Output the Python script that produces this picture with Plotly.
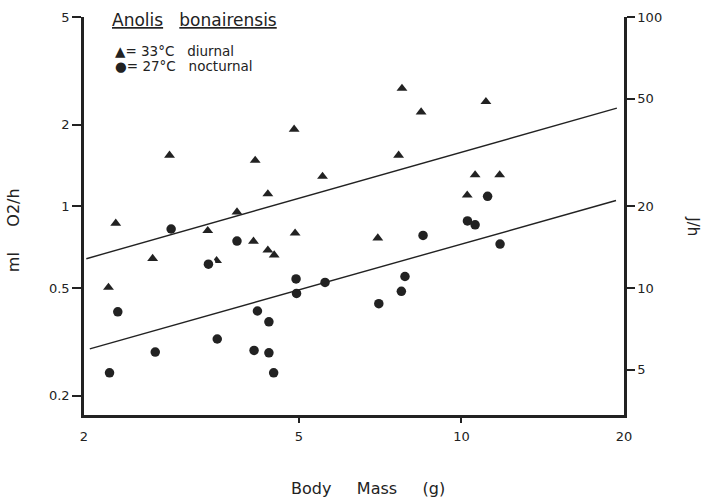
import numpy as np
import plotly.graph_objects as go

# ---- data ----
# 33 C diurnal (triangles): body mass (g), oxygen consumption (ml O2/h)
tri_mass = [2.22, 2.29, 2.68, 2.88, 3.39, 3.52, 3.84, 4.15, 4.12, 4.38, 4.38, 4.50,
            4.90, 4.92, 5.53, 7.00, 7.65, 7.76, 8.42, 10.25, 10.60, 11.10, 11.77]
tri_vo2 = [0.502, 0.866, 0.642, 1.544, 0.813, 0.630, 0.953, 1.477, 0.743, 1.112, 0.689, 0.661,
           1.925, 0.796, 1.290, 0.764, 1.544, 2.725, 2.230, 1.100, 1.306, 2.434, 1.306]

# 27 C nocturnal (circles)
circ_mass = [2.23, 2.31, 2.71, 2.90, 3.40, 3.53, 3.84, 4.13, 4.19, 4.40, 4.40, 4.49,
             4.94, 4.95, 5.59, 7.03, 7.74, 7.86, 8.49, 10.26, 10.60, 11.18, 11.79]
circ_vo2 = [0.243, 0.408, 0.290, 0.825, 0.612, 0.324, 0.745, 0.294, 0.411, 0.375, 0.288, 0.243,
            0.540, 0.477, 0.524, 0.4375, 0.486, 0.551, 0.781, 0.884, 0.855, 1.089, 0.726]

# regression lines (end points)
line33_mass = [2.02, 19.4]
line33_vo2 = [0.641, 2.306]
line27_mass = [2.05, 19.33]
line27_vo2 = [0.298, 1.051]

x_ticks = [2, 5, 10, 20]
x_ticklabels = ["2", "5", "10", "20"]
x_marked = [5, 10]
y_ticks = [0.2, 0.5, 1, 2, 5]
y_ticklabels = ["0.2", "0.5", "1", "2", "5"]
j_ticks = [5, 10, 20, 50, 100]
j_ticklabels = ["5", "10", "20", "50", "100"]
J_PER_ML = 20.0

INK = "#222222"
FONT = "DejaVu Sans"

x_range = [np.log10(2), np.log10(20)]
y_range = [-0.770, np.log10(5)]
j_range = [y_range[0] + np.log10(J_PER_ML), y_range[1] + np.log10(J_PER_ML)]

fig = go.Figure()

# regression lines
for mx, my in [(line33_mass, line33_vo2), (line27_mass, line27_vo2)]:
    fig.add_trace(go.Scatter(x=mx, y=my, mode="lines", xaxis="x2", yaxis="y",
                             line=dict(color=INK, width=1.4), showlegend=False,
                             hoverinfo="skip"))

# register the right-hand (J/h) axis
fig.add_trace(go.Scatter(x=[], y=[], xaxis="x", yaxis="y2", mode="markers",
                         showlegend=False, hoverinfo="skip"))

TRI = 9.5
CIR = 9.5
# triangles with white halo
fig.add_trace(go.Scatter(x=tri_mass, y=tri_vo2, mode="markers",
                         marker=dict(symbol="triangle-up", size=TRI + 5, color="white"),
                         showlegend=False, hoverinfo="skip"))
fig.add_trace(go.Scatter(x=tri_mass, y=tri_vo2, mode="markers", name="33°C diurnal",
                         marker=dict(symbol="triangle-up", size=TRI, color=INK),
                         showlegend=False))
# circles with white halo
fig.add_trace(go.Scatter(x=circ_mass, y=circ_vo2, mode="markers",
                         marker=dict(symbol="circle", size=CIR + 5, color="white"),
                         showlegend=False, hoverinfo="skip"))
fig.add_trace(go.Scatter(x=circ_mass, y=circ_vo2, mode="markers", name="27°C nocturnal",
                         marker=dict(symbol="circle", size=CIR, color=INK),
                         showlegend=False))

tickfont = dict(family=FONT, size=13, color=INK)

fig.update_layout(
    width=704, height=504,
    margin=dict(l=84, r=80, t=10, b=89),
    paper_bgcolor="white", plot_bgcolor="white",
    showlegend=False,
    xaxis=dict(type="log", range=x_range, tickvals=x_ticks, ticktext=x_ticklabels,
               ticks="outside", ticklen=8, tickcolor="rgba(0,0,0,0)",
               showline=True, linewidth=2.5, linecolor=INK,
               showgrid=False, zeroline=False, tickfont=tickfont),
    xaxis2=dict(type="log", range=x_range, overlaying="x", anchor="y", side="bottom",
                tickvals=x_marked, ticks="outside", ticklen=7, tickwidth=1.5,
                tickcolor=INK, showticklabels=False, showline=False,
                showgrid=False, zeroline=False),
    yaxis=dict(type="log", range=y_range, tickvals=y_ticks, ticktext=y_ticklabels,
               ticks="outside", ticklen=9, tickwidth=1.5, tickcolor=INK,
               showline=True, linewidth=2.5, linecolor=INK,
               showgrid=False, zeroline=False, tickfont=tickfont),
    yaxis2=dict(type="log", range=j_range, overlaying="y", side="right", anchor="x",
                tickvals=j_ticks, ticktext=j_ticklabels,
                ticks="outside", ticklen=8, tickwidth=1.5, tickcolor=INK,
                showline=True, linewidth=2.5, linecolor=INK,
                showgrid=False, zeroline=False, tickfont=tickfont),
)

annots = [
    dict(text="ml\u00a0\u00a0\u00a0\u00a0\u00a0O2/h", x=-0.13, y=0.464, textangle=-90,
         font=dict(family=FONT, size=16, color=INK)),
    dict(text="J/h", x=1.127, y=0.475, textangle=90,
         font=dict(family=FONT, size=15, color=INK)),
    dict(text="Body\u00a0\u00a0\u00a0\u00a0\u00a0Mass\u00a0\u00a0\u00a0\u00a0\u00a0(g)",
         x=0.525, y=-0.185, font=dict(family=FONT, size=16, color=INK)),
    dict(text="<u>Anolis</u>\u00a0\u00a0\u00a0<u>bonairensis</u>", x=0.048, y=0.993,
         xanchor="left", font=dict(family=FONT, size=17, color=INK)),
    dict(text="\u25B2= 33°C\u00a0\u00a0\u00a0diurnal", x=0.053, y=0.915, xanchor="left",
         font=dict(family=FONT, size=13.5, color=INK)),
    dict(text="\u25CF= 27°C\u00a0\u00a0\u00a0nocturnal", x=0.053, y=0.876, xanchor="left",
         font=dict(family=FONT, size=13.5, color=INK)),
]
for a in annots:
    a.update(xref="paper", yref="paper", showarrow=False)
    a.setdefault("xanchor", "center")
    a.setdefault("yanchor", "middle")
    fig.add_annotation(**a)

fig.write_html("out.html")
